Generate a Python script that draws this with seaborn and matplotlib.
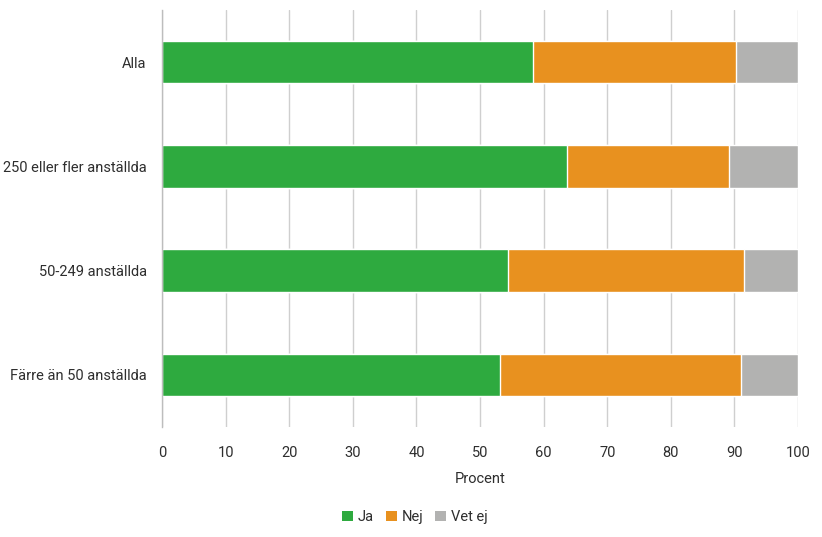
import matplotlib
matplotlib.use("Agg")
import matplotlib.pyplot as plt
import seaborn as sns
import pandas as pd
import numpy as np
from matplotlib.patches import Patch

categories = ["Alla", "250 eller fler anställda", "50-249 anställda", "Färre än 50 anställda"]
ja = [58.3, 63.7, 54.4, 53.1]
nej = [32.0, 25.5, 37.1, 37.9]
vet_ej = [9.7, 10.8, 8.5, 9.0]
series_names = ["Ja", "Nej", "Vet ej"]
colors = ["#2EAA3F", "#E8911F", "#B2B2B1"]
xticks = [0, 10, 20, 30, 40, 50, 60, 70, 80, 90, 100]
xlabel = "Procent"

sns.set_theme(style="white")
plt.rcParams["font.family"] = ["Roboto", "DejaVu Sans"]
text_color = "#2E2E2E"

df = pd.DataFrame({"cat": categories, "Ja": ja, "Nej": nej, "Vet ej": vet_ej})
df["c1"] = df["Ja"]
df["c2"] = df["Ja"] + df["Nej"]
df["c3"] = df["Ja"] + df["Nej"] + df["Vet ej"]

fig = plt.figure(figsize=(8.22, 5.37), dpi=100)
ax = fig.add_axes([162 / 822, 1 - 427 / 537, (798 - 162) / 822, (427 - 10) / 537])

for col, color in zip(["c3", "c2", "c1"], colors[::-1]):
    sns.barplot(data=df, y="cat", x=col, orient="h", color=color, width=0.41,
                saturation=1, ax=ax, zorder=3)

ax.set_xlim(0, 100)
ax.set_ylim(3.5, -0.5)
ax.set_xticks(xticks)
ax.set_xticklabels([str(t) for t in xticks])
ax.xaxis.grid(True, color="#CFCFCF", linewidth=1, zorder=0)
ax.set_axisbelow(True)
for s in ["top", "right", "bottom"]:
    ax.spines[s].set_visible(False)
ax.spines["left"].set_color("#BDBDBD")
ax.spines["left"].set_linewidth(1)
ax.spines["left"].set_zorder(5)
ax.tick_params(axis="both", length=0, labelsize=10.5, colors=text_color)
ax.tick_params(axis="y", pad=11)
ax.tick_params(axis="x", pad=14)
ax.set_ylabel("")
ax.set_xlabel(xlabel, fontsize=10.5, color=text_color, labelpad=8)

handles = [Patch(facecolor=c, edgecolor="none") for c in colors]
fig.legend(handles, series_names, loc="center", bbox_to_anchor=(415 / 822, 1 - 517 / 537),
           ncol=3, frameon=False, fontsize=10.5, handlelength=0.75, handleheight=0.75,
           handletextpad=0.35, columnspacing=0.8, labelcolor=text_color)

fig.savefig("out.png", dpi=100, facecolor="white")
